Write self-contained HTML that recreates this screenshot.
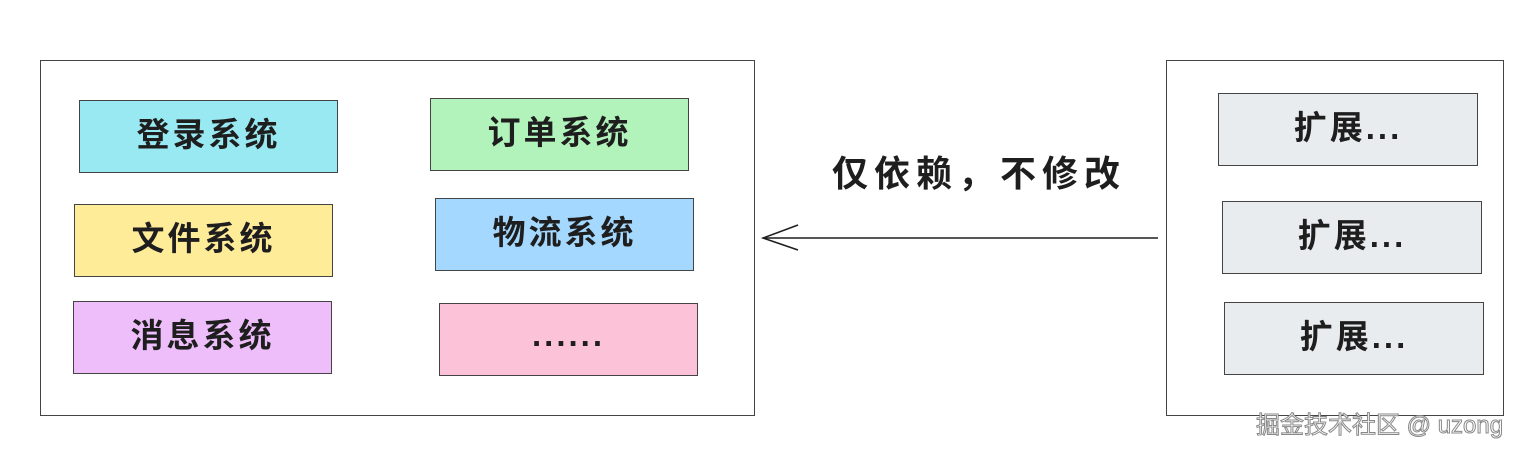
<!DOCTYPE html>
<html><head><meta charset="utf-8"><style>
body{margin:0;width:1530px;height:452px;background:#fff;position:relative;overflow:hidden;font-family:"Liberation Sans","Noto Sans CJK SC",sans-serif}
.b{position:absolute;box-sizing:border-box;border:1.5px solid #444;display:flex;align-items:center;justify-content:center;font-size:33px;font-weight:600;color:#1e1e1e;letter-spacing:3px;padding-bottom:10px}
.o{position:absolute;box-sizing:border-box;border:1.5px solid #444;background:#fff}
</style></head><body>
<div class="o" style="left:40px;top:60px;width:715px;height:356px"></div>
<div class="o" style="left:1166px;top:60px;width:338px;height:356px"></div>
<div class="b" style="left:79px;top:100px;width:259px;height:73px;background:#99e9f2">登录系统</div>
<div class="b" style="left:430px;top:98px;width:259px;height:73px;background:#b2f2bb">订单系统</div>
<div class="b" style="left:74px;top:204px;width:259px;height:73px;background:#ffec99">文件系统</div>
<div class="b" style="left:435px;top:198px;width:259px;height:73px;background:#a5d8ff">物流系统</div>
<div class="b" style="left:73px;top:301px;width:259px;height:73px;background:#eebefa">消息系统</div>
<div class="b" style="left:439px;top:303px;width:259px;height:73px;background:#fcc2d7">......</div>
<div class="b" style="left:1218px;top:93px;width:260px;height:73px;background:#e9ecef">扩展...</div>
<div class="b" style="left:1222px;top:201px;width:260px;height:73px;background:#e9ecef">扩展...</div>
<div class="b" style="left:1224px;top:302px;width:260px;height:73px;background:#e9ecef">扩展...</div>
<svg style="position:absolute;left:0;top:0" width="1530" height="452">
<line x1="763" y1="238" x2="1158" y2="238" stroke="#1e1e1e" stroke-width="1.5"/>
<polyline points="798,225 763,238 798,250" fill="none" stroke="#1e1e1e" stroke-width="1.5"/>
</svg>
<div style="position:absolute;left:832px;top:145px;font-size:36px;font-weight:600;color:#1e1e1e;letter-spacing:6px">仅依赖，不修改</div>
<div style="position:absolute;left:1256px;top:405px;font-size:24px;color:#fff;-webkit-text-stroke:1px #888">掘金技术社区 @ uzong</div>
</body></html>
